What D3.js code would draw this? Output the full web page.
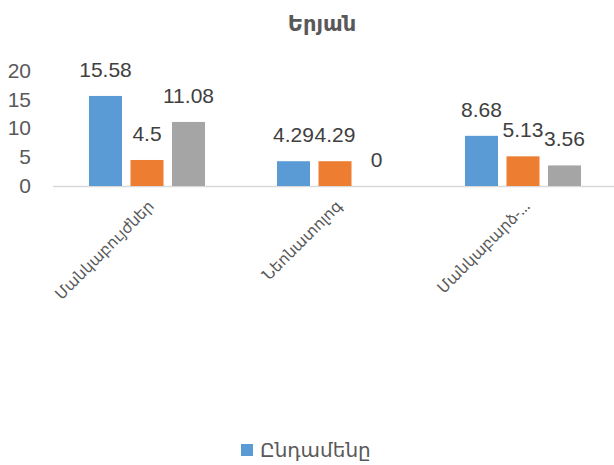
<!DOCTYPE html>
<html>
<head>
<meta charset="utf-8">
<script src="https://cdn.jsdelivr.net/npm/d3@7"></script>
<style>
  html, body { margin: 0; padding: 0; background: #fff; }
  svg { display: block; }
</style>
</head>
<body>
<svg id="chart" width="614" height="465"></svg>
<script>
// Chart data
const title = "Երյան";
const categories = ["Մանկաբույժներ", "Նեոնատոլոգ", "Մանկաբարձ-…"];
const seriesNames = ["Ընդամենը", "Սերիա 2", "Սերիա 3"];
const totalValues = [15.58, 4.29, 8.68];
const series2Values = [4.5, 4.29, 5.13];
const series3Values = [11.08, 0, 3.56];
const yTicks = [0, 5, 10, 15, 20];
const legendItems = ["Ընդամենը"];

const seriesValues = [totalValues, series2Values, series3Values];
const colors = ["#5B9BD5", "#ED7D31", "#A5A5A5"];

const svg = d3.select("#chart");
const armenianFont = "'Noto Sans', 'DejaVu Sans', sans-serif";
const numFont = "'Liberation Sans', Arial, sans-serif";

// Scales
const x = d3.scaleBand().domain(categories).range([53, 617]).paddingInner(0).paddingOuter(0);
const groupWidth = 116;
const groupOffset = (x.bandwidth() - groupWidth) / 2;
const xInner = d3.scaleBand().domain(d3.range(seriesValues.length)).range([0, groupWidth]).paddingInner(0.205);
const y = d3.scaleLinear().domain([0, 20]).range([186, 70.4]);

// Title
svg.append("text")
  .attr("x", 322).attr("y", 31)
  .attr("text-anchor", "middle")
  .attr("font-family", armenianFont)
  .attr("font-weight", 600)
  .attr("font-size", 21)
  .attr("fill", "#595959")
  .text(title);

// Y axis labels (no line)
const yAxis = d3.axisLeft(y).tickValues(yTicks).tickSize(0).tickPadding(0).tickFormat(d3.format("d"));
const yg = svg.append("g").attr("transform", "translate(31,0)").call(yAxis);
yg.select(".domain").remove();
yg.selectAll("text")
  .attr("font-family", numFont)
  .attr("font-size", 21)
  .attr("fill", "#595959");

// Baseline
svg.append("line")
  .attr("x1", 53).attr("x2", 614)
  .attr("y1", y(0) + 0.5).attr("y2", y(0) + 0.5)
  .attr("stroke", "#D9D9D9").attr("stroke-width", 1.5);

// Bars and value labels
const groups = svg.selectAll("g.cat")
  .data(categories)
  .join("g")
  .attr("class", "cat")
  .attr("transform", d => `translate(${x(d) + groupOffset},0)`);

groups.each(function (cat, ci) {
  const g = d3.select(this);
  seriesValues.forEach((vals, si) => {
    const v = vals[ci];
    const bx = xInner(si);
    g.append("rect")
      .attr("x", bx)
      .attr("y", y(v))
      .attr("width", xInner.bandwidth())
      .attr("height", y(0) - y(v))
      .attr("fill", colors[si]);
    g.append("text")
      .attr("x", bx + xInner.bandwidth() / 2)
      .attr("y", y(v) - 19)
      .attr("text-anchor", "middle")
      .attr("font-family", numFont)
      .attr("font-size", 21)
      .attr("fill", "#404040")
      .text(v);
  });
});

// Category labels, rotated
svg.selectAll("text.cat-label")
  .data(categories)
  .join("text")
  .attr("class", "cat-label")
  .attr("text-anchor", "end")
  .attr("font-family", armenianFont)
  .attr("font-size", 15.5)
  .attr("fill", "#595959")
  .attr("transform", d => `translate(${x(d) + x.bandwidth() / 2 + 8},${207}) rotate(-45)`)
  .text(d => d);

// Legend
const lg = svg.append("g").attr("transform", "translate(241,444)");
lg.selectAll("rect")
  .data(legendItems)
  .join("rect")
  .attr("x", 0).attr("y", 0)
  .attr("width", 12).attr("height", 12)
  .attr("fill", (d, i) => colors[i]);
lg.selectAll("text")
  .data(legendItems)
  .join("text")
  .attr("x", 19).attr("y", 13)
  .attr("font-family", armenianFont)
  .attr("font-size", 20)
  .attr("fill", "#595959")
  .text(d => d);
</script>
</body>
</html>
